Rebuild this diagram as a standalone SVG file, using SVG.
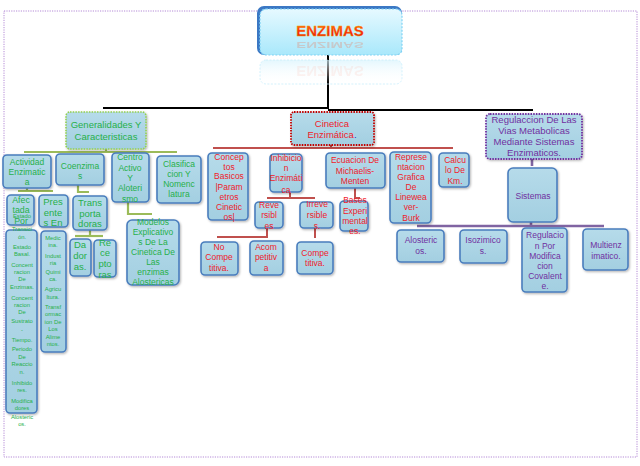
<svg xmlns="http://www.w3.org/2000/svg" width="640" height="466" viewBox="0 0 640 466">
<defs>
<linearGradient id="boxg" x1="0" y1="0" x2="0" y2="1">
<stop offset="0" stop-color="#b6dbea"/><stop offset="1" stop-color="#a3cfe1"/>
</linearGradient>
<linearGradient id="hdrg" x1="0" y1="0" x2="0" y2="1">
<stop offset="0" stop-color="#e6f9ff"/><stop offset="1" stop-color="#a9e8fb"/>
</linearGradient>
<linearGradient id="reflg" x1="0" y1="0" x2="0" y2="1">
<stop offset="0" stop-color="#d8f4fd" stop-opacity="0.7"/><stop offset="1" stop-color="#ffffff" stop-opacity="0"/>
</linearGradient>
<linearGradient id="txtg" x1="0" y1="0" x2="0" y2="1">
<stop offset="0" stop-color="#ff8a00"/><stop offset="0.5" stop-color="#ff3010"/><stop offset="1" stop-color="#e02000"/>
</linearGradient>
<filter id="sh" x="-20%" y="-20%" width="140%" height="140%">
<feDropShadow dx="1" dy="1.2" stdDeviation="0.8" flood-color="#000" flood-opacity="0.3"/>
</filter>
</defs>
<style>
.b{fill:url(#boxg);stroke:#4a7dbd;stroke-width:1.6;filter:url(#sh)}
text{font-family:"Liberation Sans Narrow","Liberation Sans",Arial,sans-serif;text-anchor:middle;font-size:8.5px}
.g{fill:#26b04a}
.r{fill:#f0202a}
.p{fill:#7030a0}
.s{font-size:5.8px}
.m{font-size:9.5px}
.hd{font-family:"Liberation Sans",Arial,sans-serif;font-size:15px;font-weight:bold}
.cg{stroke:#9bbb59;stroke-width:2.2;fill:none}
.cr{stroke:#c0504d;stroke-width:2;fill:none}
.cp{stroke:#8064a2;stroke-width:2.6;fill:none}
.ck{stroke:#000;stroke-width:2;fill:none}
</style>
<rect x="4" y="11" width="633" height="446" fill="none" stroke="#b48ad6" stroke-width="1" stroke-dasharray="1.2 1.2"/>

<g id="connectors">
<line class="ck" x1="328" y1="55" x2="328" y2="109"/>
<line class="ck" x1="103" y1="108" x2="329" y2="108"/>
<line class="ck" x1="328" y1="110" x2="533" y2="110"/>
<polyline class="cg" points="106,149 106,152"/>
<line class="cg" x1="24" y1="152" x2="177" y2="152"/>
<polyline class="cg" points="27,188 27,191"/>
<line class="cg" x1="18" y1="191" x2="53" y2="191"/>
<polyline class="cg" points="78,185 78,192 89,192"/>
<polyline class="cg" points="90,230 90,236"/>
<line class="cg" x1="75" y1="236" x2="103" y2="236"/>
<polyline class="cg" points="128,202 128,214 152,214"/>
<polyline class="cr" points="331,145 331,148"/>
<line class="cr" x1="213" y1="148" x2="453" y2="148"/>
<polyline class="cr" points="290,192 290,198"/>
<line class="cr" x1="267" y1="198" x2="315" y2="198"/>
<polyline class="cr" points="355,188 355,198 360,198"/>
<polyline class="cr" points="267,228 267,237 217,237"/>
<polyline class="cr" points="315,228 315,238"/>
<polyline class="cp" points="532,159 532,166"/>
<polyline class="cp" points="531,222 531,226"/>
<line class="cp" x1="417" y1="226" x2="604" y2="226"/>
</g>

<g id="n-enzimas">
<rect x="257" y="6" width="145" height="49" rx="7" fill="#3b78c4"/>
<rect x="260" y="9" width="142" height="46" rx="6" fill="url(#hdrg)" stroke="#7fd2f4" stroke-width="1.2" stroke-dasharray="2 1.5"/>
<rect x="260" y="60" width="142" height="24" rx="6" fill="url(#reflg)" stroke="#c8eefb" stroke-width="0.8" stroke-dasharray="2 1.5"/>
<text class="hd" x="330" y="36" style="fill:url(#txtg);stroke:#f0a000;stroke-width:0.3">ENZIMAS</text>
<text class="hd" x="330" y="-70" transform="scale(1,-0.6)" style="fill:#ff5020;opacity:0.22">ENZIMAS</text>
<text class="hd" x="330" y="-66" transform="scale(1,-1)" style="fill:#ff6040;opacity:0.08">ENZIMAS</text>
</g>

<g id="n-generalidades">
<rect x="66" y="112" width="80" height="37" rx="4" fill="url(#boxg)" stroke="#92d050" stroke-width="1.6" stroke-dasharray="1.5 1.2" filter="url(#sh)"/>
<text class="g" style="font-size:9.5px"><tspan x="106" y="128">Generalidades Y</tspan><tspan x="106" y="140">Caracteristicas</tspan></text>
</g>
<g id="n-cinetica">
<rect x="291" y="112" width="83" height="33" rx="3" fill="url(#boxg)" stroke="#c00000" stroke-width="1.8" stroke-dasharray="1.5 1.2" filter="url(#sh)"/>
<text class="r" style="font-size:9.5px"><tspan x="332" y="127">Cinetica</tspan><tspan x="332" y="138">Enzimática<tspan fill="#2030c0">.</tspan></tspan></text>
</g>
<g id="n-regulaccion">
<rect x="486" y="114" width="96" height="45" rx="4" fill="url(#boxg)" stroke="#7030a0" stroke-width="1.8" stroke-dasharray="1.5 1.2" filter="url(#sh)"/>
<text class="p" style="font-size:9.5px"><tspan x="534" y="123">Regulaccion De Las</tspan><tspan x="534" y="134">Vias Metabolicas</tspan><tspan x="534" y="145">Mediante Sistemas</tspan><tspan x="534" y="156">Enzimaticos.</tspan></text>
</g>

<g id="n-actividad">
<rect class="b" x="3" y="155" width="48" height="33" rx="4"/>
<text class="g"><tspan x="27" y="165">Actividad</tspan><tspan x="27" y="175">Enzimatic</tspan><tspan x="27" y="185">a</tspan></text>
</g>
<g id="n-coenzimas">
<rect class="b" x="56" y="154" width="48" height="31" rx="4"/>
<text class="g"><tspan x="80" y="169">Coenzima</tspan><tspan x="80" y="179">s</tspan></text>
</g>
<g id="n-centro">
<rect class="b" x="112" y="153" width="37" height="49" rx="4"/>
<text class="g"><tspan x="130" y="160">Centro</tspan><tspan x="130" y="171">Activo</tspan><tspan x="130" y="181">Y</tspan><tspan x="130" y="191">Aloteri</tspan><tspan x="130" y="202">smo</tspan></text>
</g>
<g id="n-clasificacion">
<rect class="b" x="157" y="156" width="44" height="47" rx="4"/>
<text class="g"><tspan x="179" y="167">Clasifica</tspan><tspan x="179" y="177">cion Y</tspan><tspan x="179" y="187">Nomenc</tspan><tspan x="179" y="197">latura</tspan></text>
</g>

<g id="n-afectada">
<rect class="b" x="7" y="195" width="27" height="30" rx="4"/>
<text class="g" style="font-size:8.8px"><tspan x="21" y="203">Afec</tspan><tspan x="21" y="213">tada</tspan><tspan x="21" y="224">Por</tspan></text>
</g>
<g id="n-afectada-lista">
<rect class="b" x="6" y="230" width="31" height="183" rx="4"/>
<text class="g s"><tspan x="22" y="218">Estado</tspan><tspan x="22" y="231">Transici</tspan><tspan x="22" y="239">ón.</tspan><tspan x="22" y="249">Estado</tspan><tspan x="22" y="256">Basal.</tspan><tspan x="22" y="267">Concent</tspan><tspan x="22" y="274">racion</tspan><tspan x="22" y="281">De</tspan><tspan x="22" y="289">Enzimas.</tspan><tspan x="22" y="300">Concent</tspan><tspan x="22" y="307">racion</tspan><tspan x="22" y="314">De</tspan><tspan x="22" y="323">Sustrato</tspan><tspan x="22" y="332">-</tspan><tspan x="22" y="342">Tiempo.</tspan><tspan x="22" y="351">Periodo</tspan><tspan x="22" y="359">De</tspan><tspan x="22" y="366">Reaccio</tspan><tspan x="22" y="374">n.</tspan><tspan x="22" y="385">Inhibido</tspan><tspan x="22" y="392">res.</tspan><tspan x="22" y="403">Modifica</tspan><tspan x="22" y="410">dores</tspan><tspan x="22" y="419">Alosteric</tspan><tspan x="22" y="426">os.</tspan></text>
</g>
<g id="n-presentes">
<rect class="b" x="39" y="195" width="29" height="32" rx="4"/>
<text class="g m"><tspan x="53" y="205">Pres</tspan><tspan x="53" y="216">ente</tspan><tspan x="53" y="226">s  En</tspan></text>
</g>
<g id="n-presentes-lista">
<rect class="b" x="41" y="231" width="25" height="121" rx="4"/>
<text class="g s"><tspan x="53" y="240">Medic</tspan><tspan x="53" y="247">ina.</tspan><tspan x="53" y="258">Indust</tspan><tspan x="53" y="265">ria</tspan><tspan x="53" y="274">Quimi</tspan><tspan x="53" y="281">ca.</tspan><tspan x="53" y="291">Agricu</tspan><tspan x="53" y="299">ltura.</tspan><tspan x="53" y="309">Transf</tspan><tspan x="53" y="316">ormac</tspan><tspan x="53" y="324">ion De</tspan><tspan x="53" y="331">Los</tspan><tspan x="53" y="339">Alime</tspan><tspan x="53" y="346">ntos.</tspan></text>
</g>
<g id="n-transportadoras">
<rect class="b" x="73" y="196" width="34" height="34" rx="4"/>
<text class="g m"><tspan x="90" y="206">Trans</tspan><tspan x="90" y="217">porta</tspan><tspan x="90" y="227">doras</tspan></text>
</g>
<g id="n-dadoras">
<rect class="b" x="70" y="239" width="21" height="37" rx="4"/>
<text class="g m"><tspan x="80" y="248">Da</tspan><tspan x="80" y="259">dor</tspan><tspan x="80" y="270">as.</tspan></text>
</g>
<g id="n-receptoras">
<rect class="b" x="94" y="240" width="22" height="37" rx="4"/>
<text class="g m"><tspan x="105" y="246">Re</tspan><tspan x="105" y="256">ce</tspan><tspan x="105" y="267">pto</tspan><tspan x="105" y="278">ras</tspan></text>
</g>
<g id="n-modelos">
<rect class="b" x="127" y="220" width="52" height="65" rx="5"/>
<text class="g"><tspan x="153" y="225">Modelos</tspan><tspan x="153" y="235">Explicativo</tspan><tspan x="153" y="245">s De La</tspan><tspan x="153" y="255">Cinetica De</tspan><tspan x="153" y="265">Las</tspan><tspan x="153" y="275">enzimas</tspan><tspan x="153" y="285">Alostericas</tspan></text>
</g>

<g id="n-conceptos">
<rect class="b" x="208" y="153" width="40" height="67" rx="4"/>
<text class="r"><tspan x="229" y="160">Concep</tspan><tspan x="229" y="170">tos</tspan><tspan x="229" y="179">Basicos</tspan><tspan x="229" y="190">|Param</tspan><tspan x="229" y="200">etros</tspan><tspan x="229" y="210">Cinetic</tspan><tspan x="229" y="220">os|</tspan></text>
</g>
<g id="n-inhibicion">
<rect class="b" x="270" y="154" width="32" height="38" rx="4"/>
<text class="r"><tspan x="286" y="161">Inhibicio</tspan><tspan x="286" y="171">n</tspan><tspan x="286" y="181">Enzimáti</tspan><tspan x="286" y="193">ca</tspan></text>
</g>
<g id="n-ecuacion">
<rect class="b" x="326" y="153" width="59" height="35" rx="4"/>
<text class="r"><tspan x="355" y="163">Ecuacion De</tspan><tspan x="355" y="174">Michaelis-</tspan><tspan x="355" y="184">Menten</tspan></text>
</g>
<g id="n-representacion">
<rect class="b" x="390" y="152" width="41" height="71" rx="4"/>
<text class="r"><tspan x="411" y="160">Represe</tspan><tspan x="411" y="170">ntacion</tspan><tspan x="411" y="180">Grafica</tspan><tspan x="411" y="190">De</tspan><tspan x="411" y="200">Linewea</tspan><tspan x="411" y="210">ver-</tspan><tspan x="411" y="221">Burk</tspan></text>
</g>
<g id="n-calculo">
<rect class="b" x="439" y="153" width="30" height="34" rx="4"/>
<text class="r"><tspan x="455" y="163">Calcu</tspan><tspan x="455" y="173">lo De</tspan><tspan x="455" y="184">Km.</tspan></text>
</g>
<g id="n-reversibles">
<rect class="b" x="255" y="202" width="28" height="26" rx="4"/>
<text class="r"><tspan x="269" y="208">Reve</tspan><tspan x="269" y="218">rsibl</tspan><tspan x="269" y="229">es</tspan></text>
</g>
<g id="n-irreversibles">
<rect class="b" x="300" y="202" width="33" height="26" rx="4"/>
<text class="r"><tspan x="317" y="207">Irreve</tspan><tspan x="317" y="218">rsible</tspan><tspan x="317" y="229">s.</tspan></text>
</g>
<g id="n-bases">
<rect class="b" x="340" y="201" width="28" height="30" rx="4"/>
<text class="r"><tspan x="355" y="203">Bases</tspan><tspan x="355" y="214">Experi</tspan><tspan x="355" y="224">mental</tspan><tspan x="355" y="234">es.</tspan></text>
</g>
<g id="n-nocompetitiva">
<rect class="b" x="201" y="242" width="37" height="33" rx="4"/>
<text class="r"><tspan x="219" y="250">No</tspan><tspan x="219" y="260">Compe</tspan><tspan x="219" y="271">titiva.</tspan></text>
</g>
<g id="n-acompetitiva">
<rect class="b" x="250" y="241" width="33" height="34" rx="4"/>
<text class="r"><tspan x="266" y="250">Acom</tspan><tspan x="266" y="260">petitiv</tspan><tspan x="266" y="271">a</tspan></text>
</g>
<g id="n-competitiva">
<rect class="b" x="297" y="242" width="36" height="32" rx="4"/>
<text class="r"><tspan x="315" y="256">Compe</tspan><tspan x="315" y="266">titiva.</tspan></text>
</g>

<g id="n-sistemas">
<rect class="b" x="508" y="168" width="49" height="54" rx="5"/>
<text class="p" x="533" y="199">Sistemas</text>
</g>
<g id="n-alostericos">
<rect class="b" x="397" y="230" width="47" height="32" rx="4"/>
<text class="p"><tspan x="421" y="243">Alosteric</tspan><tspan x="421" y="254">os.</tspan></text>
</g>
<g id="n-isozimicos">
<rect class="b" x="460" y="230" width="47" height="33" rx="4"/>
<text class="p"><tspan x="483" y="243">Isozimico</tspan><tspan x="483" y="254">s.</tspan></text>
</g>
<g id="n-regulacion-covalente">
<rect class="b" x="522" y="228" width="45" height="64" rx="4"/>
<text class="p"><tspan x="545" y="238">Regulacio</tspan><tspan x="545" y="249">n Por</tspan><tspan x="545" y="259">Modifica</tspan><tspan x="545" y="269">cion</tspan><tspan x="545" y="279">Covalent</tspan><tspan x="545" y="289">e.</tspan></text>
</g>
<g id="n-multienzimatico">
<rect class="b" x="583" y="229" width="45" height="41" rx="4"/>
<text class="p"><tspan x="606" y="248">Multienz</tspan><tspan x="606" y="259">imatico.</tspan></text>
</g>
</svg>
